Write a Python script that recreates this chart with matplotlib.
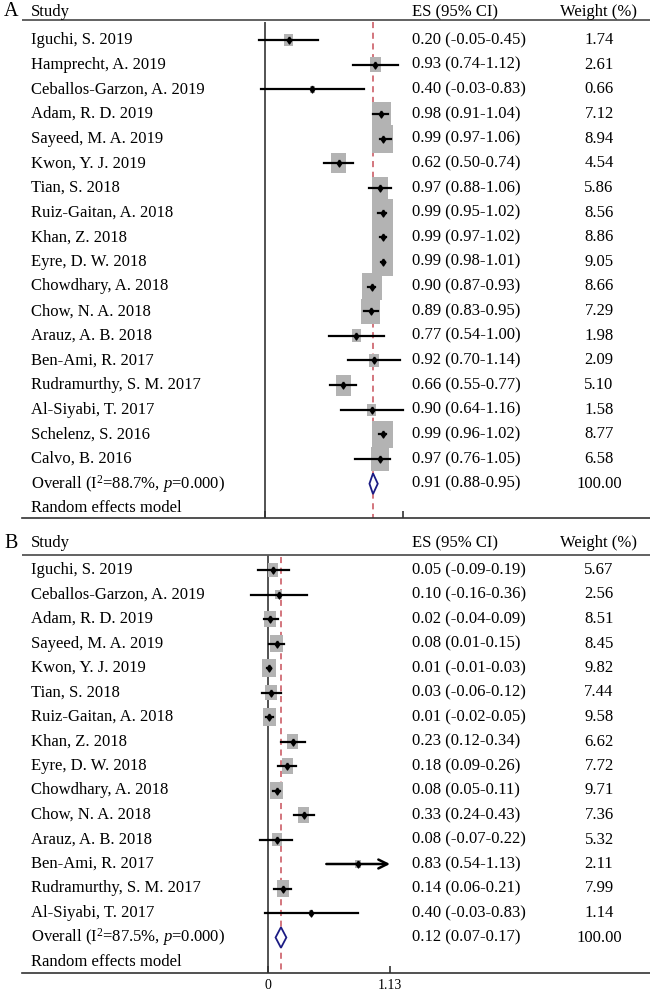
import matplotlib.pyplot as plt
from matplotlib.patches import Polygon

plt.rcParams['font.family'] = ['Liberation Serif', 'DejaVu Serif']
plt.rcParams['mathtext.fontset'] = 'custom'
plt.rcParams['mathtext.rm'] = 'Liberation Serif'
plt.rcParams['mathtext.it'] = 'Liberation Serif:italic'

# panel A
a_study = ["Iguchi, S. 2019", "Hamprecht, A. 2019", "Ceballos-Garzon, A. 2019",
           "Adam, R. D. 2019", "Sayeed, M. A. 2019", "Kwon, Y. J. 2019",
           "Tian, S. 2018", "Ruiz-Gaitan, A. 2018", "Khan, Z. 2018",
           "Eyre, D. W. 2018", "Chowdhary, A. 2018", "Chow, N. A. 2018",
           "Arauz, A. B. 2018", "Ben-Ami, R. 2017", "Rudramurthy, S. M. 2017",
           "Al-Siyabi, T. 2017", "Schelenz, S. 2016", "Calvo, B. 2016"]
a_es = [0.20, 0.93, 0.40, 0.98, 0.99, 0.62, 0.97, 0.99, 0.99, 0.99, 0.90, 0.89,
        0.77, 0.92, 0.66, 0.90, 0.99, 0.97]
a_lo = [-0.05, 0.74, -0.03, 0.91, 0.97, 0.50, 0.88, 0.95, 0.97, 0.98, 0.87, 0.83,
        0.54, 0.70, 0.55, 0.64, 0.96, 0.76]
a_hi = [0.45, 1.12, 0.83, 1.04, 1.06, 0.74, 1.06, 1.02, 1.02, 1.01, 0.93, 0.95,
        1.00, 1.14, 0.77, 1.16, 1.02, 1.05]
a_w = [1.74, 2.61, 0.66, 7.12, 8.94, 4.54, 5.86, 8.56, 8.86, 9.05, 8.66, 7.29,
       1.98, 2.09, 5.10, 1.58, 8.77, 6.58]
a_overall = (0.91, 0.88, 0.95)
a_i2 = "88.7"

# panel B
b_study = ["Iguchi, S. 2019", "Ceballos-Garzon, A. 2019", "Adam, R. D. 2019",
           "Sayeed, M. A. 2019", "Kwon, Y. J. 2019", "Tian, S. 2018",
           "Ruiz-Gaitan, A. 2018", "Khan, Z. 2018", "Eyre, D. W. 2018",
           "Chowdhary, A. 2018", "Chow, N. A. 2018", "Arauz, A. B. 2018",
           "Ben-Ami, R. 2017", "Rudramurthy, S. M. 2017", "Al-Siyabi, T. 2017"]
b_es = [0.05, 0.10, 0.02, 0.08, 0.01, 0.03, 0.01, 0.23, 0.18, 0.08, 0.33, 0.08,
        0.83, 0.14, 0.40]
b_lo = [-0.09, -0.16, -0.04, 0.01, -0.01, -0.06, -0.02, 0.12, 0.09, 0.05, 0.24,
        -0.07, 0.54, 0.06, -0.03]
b_hi = [0.19, 0.36, 0.09, 0.15, 0.03, 0.12, 0.05, 0.34, 0.26, 0.11, 0.43, 0.22,
        1.13, 0.21, 0.83]
b_w = [5.67, 2.56, 8.51, 8.45, 9.82, 7.44, 9.58, 6.62, 7.72, 9.71, 7.36, 5.32,
       2.11, 7.99, 1.14]
b_overall = (0.12, 0.07, 0.17)
b_i2 = "87.5"
b_arrows = ["Ben-Ami, R. 2017"]

W, H = 650, 992
L = 22  # left edge of the rules, px
fig = plt.figure(figsize=(W / 100, H / 100), dpi=100)

box_marker = [(-1, -1.35), (1, -1.35), (1, 1.35), (-1, 1.35), (-1, -1.35)]
dot_marker = [(0, 1.5), (1, 0), (0, -1.5), (-1, 0), (0, 1.5)]
FS = 12


def panel(letter, study, es, lo, hi, w, overall, i2, top, bot, zero, ppu,
          row0, step, hdr, hdr_line, axis_px, xticks, ticklabels, box_k,
          zero_start, arrows=()):
    aw = W - L
    ax = fig.add_axes([L / W, 1 - bot / H, aw / W, (bot - top) / H])
    ax.set_xlim((L - zero) / ppu, (W - zero) / ppu)
    ax.set_ylim((bot - row0) / step, (top - row0) / step)
    r = lambda px: (px - row0) / step
    n = len(study)
    rows = list(range(n))

    for s in ["left", "right", "top"]:
        ax.spines[s].set_visible(False)
    ax.spines["bottom"].set_position(("data", r(axis_px)))
    ax.spines["bottom"].set_color("#333333")
    ax.spines["bottom"].set_linewidth(1.2)
    ax.set_yticks([])
    ax.set_xticks(xticks)
    ax.set_xticklabels(ticklabels, fontsize=10)
    ax.tick_params(axis="x", direction="in", length=5, width=1.2, pad=4,
                   color="#333333")

    ax.axhline(r(hdr_line), color="#555555", lw=1.3)
    ax.vlines(0, r(zero_start), r(axis_px), color="#444444", lw=1.3, zorder=1)
    ax.vlines(overall[0], r(hdr_line + 2), r(axis_px), color="#c8505a", lw=1.1,
              linestyles=(0, (4, 3)), zorder=1)

    ax.scatter(es, rows, s=[box_k * v for v in w], marker=box_marker,
               color="#b3b3b3", linewidths=0, zorder=2)
    for i in rows:
        if study[i] in arrows:
            ax.annotate("", xy=(hi[i], i), xytext=(lo[i], i),
                        arrowprops=dict(arrowstyle="->", lw=1.8, color="black",
                                        mutation_scale=16, shrinkA=0, shrinkB=0),
                        zorder=3)
        else:
            ax.plot([lo[i], hi[i]], [i, i], color="black", lw=1.6, zorder=3)
    ax.plot(es, rows, ls="none", marker=dot_marker, ms=5, color="black", zorder=4)

    est, olo, ohi = overall
    ax.add_patch(Polygon([(olo, n), (est, n - 0.42), (ohi, n), (est, n + 0.42)],
                         closed=True, facecolor="white", edgecolor="#1c1c84",
                         lw=1.3, zorder=4))

    tr = ax.get_yaxis_transform()
    xs, xe, xw = (31 - L) / aw, (412 - L) / aw, (599 - L) / aw
    ax.text((4 - L) / aw, r(hdr), letter, transform=tr, fontsize=14.5,
            va="center")
    ax.text(xs, r(hdr), "Study", transform=tr, fontsize=FS, va="center")
    ax.text(xe, r(hdr), "ES (95% CI)", transform=tr, fontsize=FS, va="center")
    ax.text(xw, r(hdr), "Weight (%)", transform=tr, fontsize=FS, va="center",
            ha="center")
    for i in rows:
        ax.text(xs, i, study[i], transform=tr, fontsize=FS, va="center")
        ax.text(xe, i, f"{es[i]:.2f} ({lo[i]:.2f}-{hi[i]:.2f})", transform=tr,
                fontsize=FS, va="center")
        ax.text(xw, i, f"{w[i]:.2f}", transform=tr, fontsize=FS, va="center",
                ha="center")
    ax.text(xs, n, "Overall (I$^{2}$=" + i2 + "%, $p$=0.000)", transform=tr,
            fontsize=FS, va="center")
    ax.text(xe, n, f"{est:.2f} ({olo:.2f}-{ohi:.2f})", transform=tr,
            fontsize=FS, va="center")
    ax.text(xw, n, "100.00", transform=tr, fontsize=FS, va="center", ha="center")
    ax.text(xs, n + 1, "Random effects model", transform=tr, fontsize=FS,
            va="center")
    return ax


panel("A", a_study, a_es, a_lo, a_hi, a_w, a_overall, a_i2,
      top=0, bot=530, zero=265, ppu=118.7, row0=40, step=24.65,
      hdr=12, hdr_line=20, axis_px=518, xticks=[0, 1.16], ticklabels=["", ""],
      box_k=45, zero_start=22)
panel("B", b_study, b_es, b_lo, b_hi, b_w, b_overall, b_i2,
      top=530, bot=992, zero=268, ppu=108, row0=570, step=24.5,
      hdr=543, hdr_line=555, axis_px=973, xticks=[0, 1.13],
      ticklabels=["0", "1.13"], box_k=17, zero_start=555, arrows=b_arrows)

fig.savefig("out.png", dpi=100)
